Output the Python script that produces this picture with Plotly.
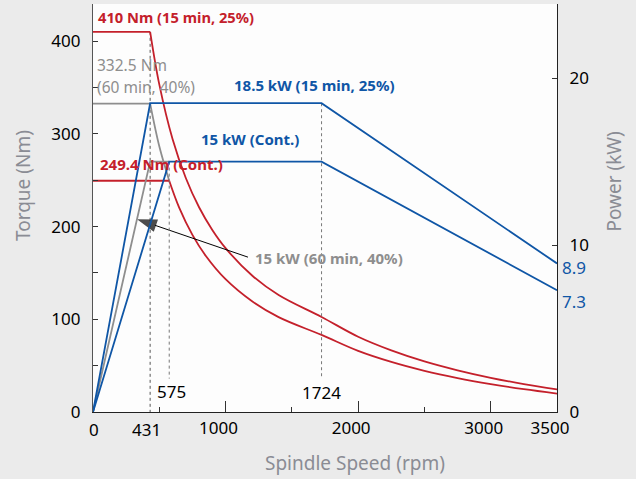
import plotly.graph_objects as go

# ---- data ----
# Torque curves (Nm) vs spindle speed (rpm)
rpm_s1_flat = [0, 431]
torque_s1_flat = [410, 410]
rpm_s1_curve = [431, 500, 600, 700, 800, 900, 1000, 1200, 1400, 1724, 2000, 2250, 2500, 2750, 3000, 3250, 3500]
torque_s1_curve = [410, 353.3, 294.4, 252.4, 220.8, 196.3, 176.7, 147.2, 126.2, 102.5, 81.2, 66.5, 54.6, 45.0, 36.9, 30.1, 24.3]

rpm_cont_flat = [0, 575]
torque_cont_flat = [249.4, 249.4]
rpm_cont_curve = [575, 650, 750, 850, 1000, 1200, 1400, 1724, 2000, 2250, 2500, 2750, 3000, 3250, 3500]
torque_cont_curve = [249.4, 220.4, 191.0, 168.5, 143.2, 119.4, 102.3, 83.1, 65.9, 54.0, 44.4, 36.6, 30.1, 24.6, 19.9]

rpm_s6_flat = [0, 431]
torque_s6_flat = [332.5, 332.5]
rpm_s6_curve = [431, 500, 575]
torque_s6_curve = [332.5, 286.5, 249.4]

# Power curves (kW) vs spindle speed (rpm)
rpm_p_s1 = [0, 431, 1724, 3500]
power_p_s1 = [0, 18.5, 18.5, 8.9]
rpm_p_cont = [0, 575, 1724, 3500]
power_p_cont = [0, 15, 15, 7.3]
rpm_p_s6 = [0, 431, 575]
power_p_s6 = [0, 15, 15]

# guide lines
guide_431_rpm = [431, 431]
guide_431_torque = [410, 0]
guide_575_rpm = [575, 575]
guide_575_power = [15, 2.0]
guide_1724_rpm = [1724, 1724]
guide_1724_power = [18.5, 2.0]

# pointer for "15 kW (60 min, 40%)": from label (rpm, Nm) to curve
pointer_rpm = [1169, 332]
pointer_torque = [167, 208]

x_tickvals = [0, 1000, 2000, 3000, 3500]
x_ticktext = ["", "1000", "2000", "3000", "3500"]
x_minor = [500, 1500, 2500]
y_tickvals = [0, 100, 200, 300, 400]
y2_tickvals = [0, 10, 20]

RED = "#c4202b"
BLUE = "#0f56a6"
GRAY = "#8e8e8e"
FONT = "Noto Sans"

fig = go.Figure()

def line(x, y, color, axis="y", shape="linear", width=1.8, dash=None):
    fig.add_trace(go.Scatter(x=x, y=y, mode="lines", yaxis=axis,
                             line=dict(color=color, width=width, shape=shape, dash=dash),
                             hoverinfo="skip", showlegend=False))

# guides
line(guide_431_rpm, guide_431_torque, "#555555", width=1, dash="dot")
line(guide_575_rpm, guide_575_power, "#777777", axis="y2", width=1, dash="dot")
line(guide_1724_rpm, guide_1724_power, "#777777", axis="y2", width=1, dash="dot")

# gray (60 min, 40%)
line(rpm_s6_flat, torque_s6_flat, GRAY)
line(rpm_s6_curve, torque_s6_curve, GRAY, shape="spline")
line(rpm_p_s6, power_p_s6, GRAY, axis="y2")

# blue power
line(rpm_p_s1, power_p_s1, BLUE, axis="y2")
line(rpm_p_cont, power_p_cont, BLUE, axis="y2")

# red torque
line(rpm_s1_flat, torque_s1_flat, RED)
line(rpm_s1_curve, torque_s1_curve, RED, shape="spline")
line(rpm_cont_flat, torque_cont_flat, RED)
line(rpm_cont_curve, torque_cont_curve, RED, shape="spline")

# pointer arrow
fig.add_trace(go.Scatter(x=pointer_rpm, y=pointer_torque, mode="lines+markers",
                         line=dict(color="black", width=1),
                         marker=dict(symbol=["circle", "arrow"], size=[0, 21], color="black",
                                     angleref="previous", line=dict(width=0)),
                         hoverinfo="skip", showlegend=False))

ann = []
def txt(x, y, s, color, size=15, bold=True, xanchor="left", xref="x", yref="y", xshift=0):
    ann.append(dict(x=x, y=y, xref=xref, yref=yref, text=f"<b>{s}</b>" if bold else s,
                    showarrow=False, xanchor=xanchor, yanchor="middle", xshift=xshift,
                    font=dict(color=color, size=size, family=FONT)))

txt(23, 426, "410 Nm (15 min, 25%)", RED, size=14.7)
txt(15, 374, "332.5 Nm", GRAY, size=15.5, bold=False)
txt(15, 350.5, "(60 min, 40%)", GRAY, size=15.5, bold=False)
txt(1048, 352.6, "18.5 kW (15 min, 25%)", BLUE)
txt(800, 294.4, "15 kW (Cont.)", BLUE)
txt(38, 267, "249.4 Nm (Cont.)", RED)
txt(1207, 166, "15 kW (60 min, 40%)", GRAY)
txt(468, 21.6, "575", "black", size=17, bold=False)
txt(1561, 20.5, "1724", "black", size=17, bold=False)
txt(407, -0.044, "431", "black", size=17, bold=False, xanchor="center", yref="paper")
txt(0, -0.044, "0", "black", size=17, bold=False, xanchor="center", yref="paper", xshift=1)
txt(1, 8.65, "8.9", BLUE, size=17, bold=False, xref="paper", yref="y2", xshift=3)
txt(1, 6.6, "7.3", BLUE, size=17, bold=False, xref="paper", yref="y2", xshift=3)

# axis titles
title_font = dict(color="#8a8c94", size=19, family=FONT)
ann.append(dict(x=-0.152, y=0.555, xref="paper", yref="paper", text="Torque (Nm)", textangle=-90,
                showarrow=False, font=title_font, xanchor="center", yanchor="middle"))
ann.append(dict(x=1.123, y=0.565, xref="paper", yref="paper", text="Power (kW)", textangle=-90,
                showarrow=False, font=title_font, xanchor="center", yanchor="middle"))
ann.append(dict(x=0.5647, y=-0.125, xref="paper", yref="paper", text="Spindle Speed (rpm)",
                showarrow=False, font=title_font, xanchor="center", yanchor="middle"))

tick_font = dict(color="black", size=17, family=FONT)
fig.update_layout(
    width=636, height=479,
    margin=dict(l=93, r=79, t=4, b=67),
    paper_bgcolor="#ebebeb", plot_bgcolor="#fdfdfd",
    font=dict(family=FONT),
    annotations=ann,
    xaxis=dict(range=[0, 3500], tickvals=x_tickvals, ticktext=x_ticktext, ticks="inside", ticklen=11,
               tickcolor="#333", showline=True, linecolor="#222", linewidth=1.2, showgrid=False,
               zeroline=False, tickfont=tick_font, ticklabelshift=-7,
               minor=dict(tickvals=x_minor, ticks="inside", ticklen=5, tickcolor="#333")),
    yaxis=dict(range=[0, 440], tickvals=y_tickvals, ticks="inside", ticklen=5, tickcolor="#333",
               showline=True, linecolor="#555", linewidth=1.2, showgrid=False, zeroline=False,
               tickfont=tick_font, ticklabelstandoff=8,
               minor=dict(dtick=50, ticks="inside", ticklen=5, tickcolor="#333")),
    yaxis2=dict(range=[0, 440 / 18], tickvals=y2_tickvals, ticks="inside", ticklen=5, tickcolor="#333",
                overlaying="y", side="right", showline=True, linecolor="#222", linewidth=1.2,
                showgrid=False, zeroline=False, tickfont=tick_font, ticklabelstandoff=8),
)

fig.write_html("out.html", config={"displayModeBar": False},
               post_script="document.body.style.margin='0';document.body.style.padding='0';")
